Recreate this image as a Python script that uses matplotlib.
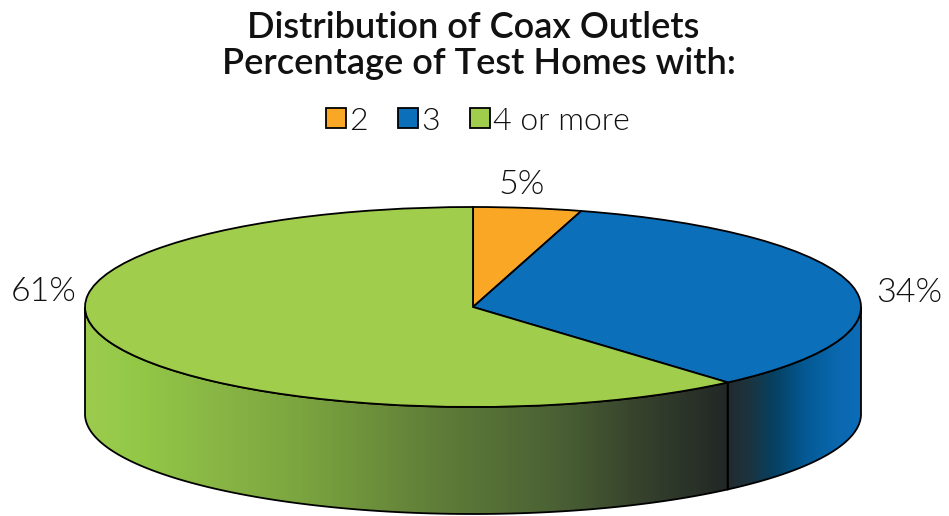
import numpy as np
import matplotlib
matplotlib.use("Agg")
import matplotlib.pyplot as plt
from matplotlib.colors import LinearSegmentedColormap
from matplotlib.patches import PathPatch
from matplotlib.path import Path

W, H = 949, 516

title_lines = ["Distribution of Coax Outlets", "Percentage of Test Homes with:"]
categories = ["2", "3", "4 or more"]
shares = [4.5, 34.1, 61.4]
share_labels = ["5%", "34%", "61%"]
colors = ["#faa725", "#0c6fb9", "#a1cd4d"]

plt.rcParams['font.family'] = ['Lato', 'DejaVu Sans']

# Ellipse of the pie, in pixels of the picture
cx, cy = 473, 307
rx, ry = 388, 100
depth = 107


def px(x, y):
    return x / W, 1 - y / H


# Side of the pie between two angles, filled with a left to right gradient
def draw_side(ax, start, end, stops):
    angles = np.radians(np.linspace(start, end, 200))
    xs = np.cos(angles)
    ys = np.sin(angles)
    top = np.column_stack([xs, ys])
    bottom = np.column_stack([xs, ys - depth / ry])[::-1]
    verts = np.vstack([top, bottom, top[:1]])
    codes = [Path.MOVETO] + [Path.LINETO] * (len(verts) - 2) + [Path.CLOSEPOLY]
    path = Path(verts, codes)

    x0, x1 = stops[0][0], stops[-1][0]
    cmap = LinearSegmentedColormap.from_list(
        "side", [((x - x0) / (x1 - x0), c) for x, c in stops])
    im = ax.imshow(np.linspace(0, 1, 512).reshape(1, -1), cmap=cmap, aspect="auto",
                   extent=((x0 - cx) / rx, (x1 - cx) / rx, -1 - depth / ry, 1), zorder=1)
    outline = PathPatch(path, facecolor="none", edgecolor="black", linewidth=1.3, zorder=2)
    ax.add_patch(outline)
    im.set_clip_path(outline)


fig = plt.figure(figsize=(W / 100, H / 100), dpi=100)
ax = fig.add_axes([0, 0, 1, 1])

wedges, _ = ax.pie(shares, colors=colors, startangle=90, counterclock=False,
                   wedgeprops={"edgecolor": "black", "linewidth": 1.3, "zorder": 3})

# Where the blue and green slices meet on the front
boundary = 90 - 360 * (shares[0] + shares[1]) / sum(shares)

green_stops = [(85, "#9dcb4e"), (132, "#93c947"), (220, "#88b545"), (300, "#7ba53f"),
               (430, "#617f39"), (560, "#4a6034"), (650, "#343f2c"), (727, "#222826")]
blue_stops = [(727, "#222a2e"), (750, "#1c3440"), (773, "#064060"), (807, "#045a96"),
              (840, "#0a69b0"), (861, "#0c6cb8")]
draw_side(ax, -180, boundary, green_stops)
draw_side(ax, boundary, 0, blue_stops)

ax.set_aspect("auto")
ax.set_xlim(-cx / rx, (W - cx) / rx)
ax.set_ylim((cy - H) / ry, cy / ry)
ax.axis("off")

for line, x, y in zip(title_lines, [473, 479], [38, 74]):
    fig.text(*px(x, y), line, ha="center", va="baseline", fontsize=26,
             weight="semibold", color="#111111")

leg = fig.legend(wedges, categories, loc="center", bbox_to_anchor=px(478, 121), ncol=3,
                 frameon=False, prop={"size": 23, "weight": 300}, handlelength=0.63,
                 handleheight=0.6, handletextpad=0.1, columnspacing=0.94,
                 labelcolor="#111111")

label_xy = [(522, 185), (909, 293), (44, 292)]
for text, (x, y) in zip(share_labels, label_xy):
    fig.text(*px(x, y), text, ha="center", va="center", fontsize=24.5, weight=300,
             color="#111111")

fig.savefig("out.png", dpi=100)
